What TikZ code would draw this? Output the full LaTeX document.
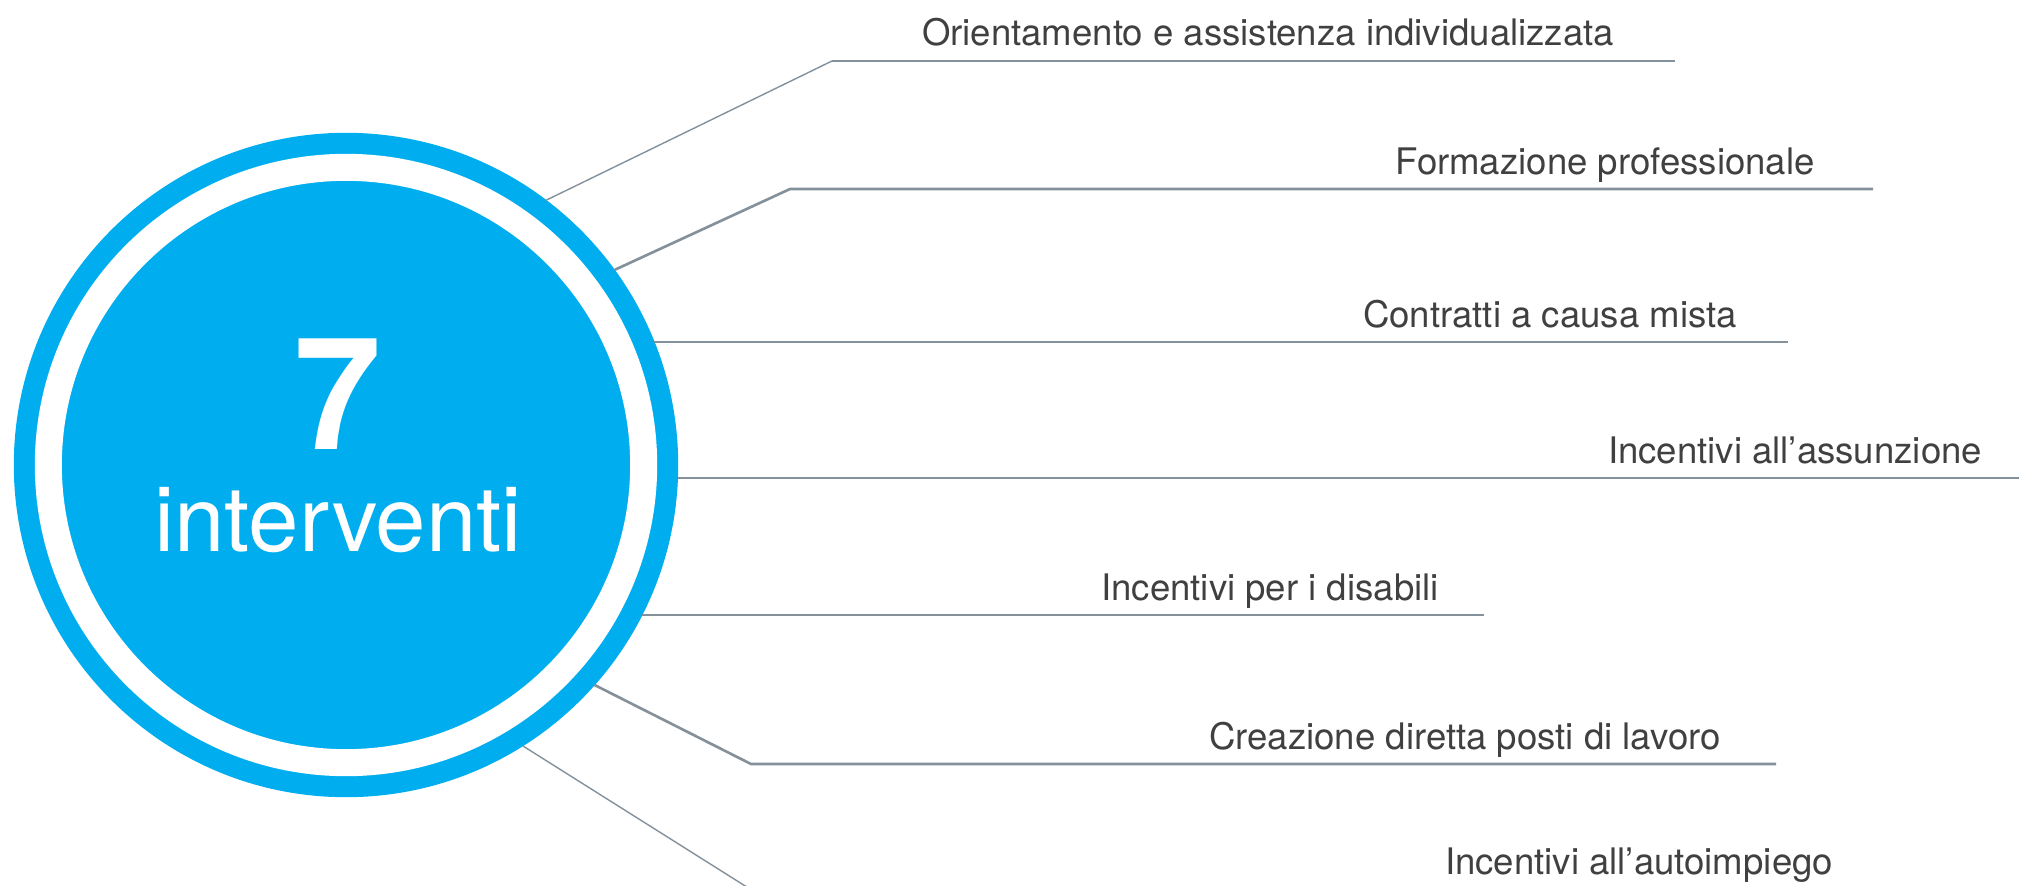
\documentclass[tikz,border=0pt]{standalone}
\usepackage{fontspec}
\setmainfont{TeX Gyre Heros}
\usetikzlibrary{positioning}
\definecolor{ringblue}{HTML}{00AEEF}
\definecolor{leadgray}{HTML}{84919B}
\definecolor{textgray}{HTML}{404040}

\begin{document}
\begin{tikzpicture}[x=0.01cm, y=-0.01cm]
	\tikzstyle{hub} = [circle, fill=ringblue, minimum size=6.64cm, 
	inner sep=0pt, outer sep=0pt]
	\tikzstyle{gap} = [draw=white, line width=0.27cm]
	\tikzstyle{bignum} = [anchor=base, inner sep=0pt, text=white, 
	font=\fontsize{44.4}{50}\selectfont\bfseries]
	\tikzstyle{bigword} = [anchor=base, inner sep=0pt, text=white, 
	font=\fontsize{25.8}{30}\selectfont]
	\tikzstyle{item} = [anchor=base, inner sep=0pt, text=textgray, 
	font=\fontsize{10.4}{12}\selectfont]
	\tikzstyle{leader} = [draw=leadgray, line width=0.75pt]
	\tikzstyle{thinleader} = [draw=leadgray, line width=0.4pt]
	\useasboundingbox (0,0) rectangle (2019,885);
	\clip (0,0) rectangle (2019,885);
	\node (circle) [hub] at (346,465) {};
	\draw [gap] (circle.center) circle (2.975cm);
	\node (seven) [bignum] at (338,449) {7};
	\node (word) [bigword] at (338,551) {interventi};
	\node (orient) [item] at (1268,46) {Orientamento e assistenza individualizzata};
	\node (formaz) [item] at (1605,174) {Formazione professionale};
	\node (contratti) [item] at (1550,327) {Contratti a causa mista};
	\node (assunz) [item] at (1795,463) {Incentivi all’assunzione};
	\node (disab) [item] at (1270,600) {Incentivi per i disabili};
	\node (creaz) [item] at (1465,749) {Creazione diretta posti di lavoro};
	\node (autoimp) [item] at (1639,874) {Incentivi all’autoimpiego};
	\coordinate (start1) at ([shift={(200.2,-264.8)}]circle.center);
	\coordinate (start2) at ([shift={(268.6,-195.1)}]circle.center);
	\coordinate (start3) at ([shift={(308.4,-123)}]circle.center);
	\coordinate (start4) at ([shift={(331.7,13)}]circle.center);
	\coordinate (start5) at ([shift={(296.2,150)}]circle.center);
	\coordinate (start6) at ([shift={(248.6,220)}]circle.center);
	\coordinate (start7) at ([shift={(177,281)}]circle.center);
	\coordinate (knee1) at (832,61);
	\coordinate (end1) at (1675,61);
	\coordinate (knee2) at (790,189);
	\coordinate (end2) at (1873,189);
	\coordinate (end3) at (1788,342);
	\coordinate (end4) at (2019,478);
	\coordinate (end5) at (1484,615);
	\coordinate (knee6) at (751,764);
	\coordinate (end6) at (1776,764);
	\coordinate (knee7) at (750,889);
	\coordinate (end7) at (1800,889);
	\draw [thinleader] (start1) -- (knee1);
	\draw [leader] (knee1) -- (end1);
	\draw [leader] (start2) -- (knee2) -- (end2);
	\draw [leader] (start3) -- (end3);
	\draw [leader] (start4) -- (end4);
	\draw [leader] (start5) -- (end5);
	\draw [leader] (start6) -- (knee6) -- (end6);
	\draw [thinleader] (start7) -- (knee7) -- (end7);
\end{tikzpicture}
\end{document}
